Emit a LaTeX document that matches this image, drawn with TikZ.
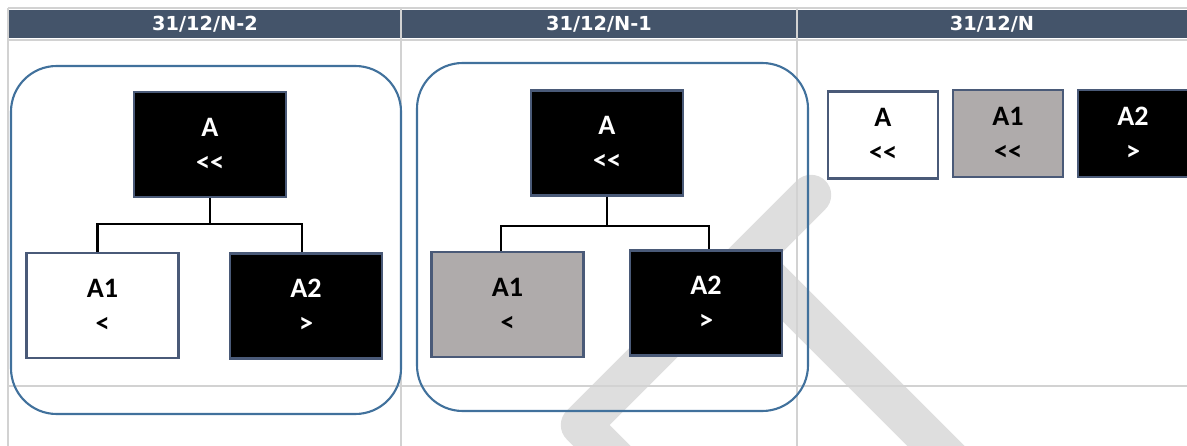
\documentclass[tikz,border=0pt]{standalone}
\usepackage{fontspec}
\setmainfont{Carlito}[Ligatures=TeXOff]
\newfontfamily\headfont{DejaVu Sans}
\usetikzlibrary{calc}
\definecolor{headblue}{HTML}{44546A}
\definecolor{boxedge}{HTML}{4A5A78}
\definecolor{groupblue}{HTML}{41719C}
\definecolor{midgray}{HTML}{AFABAB}
\definecolor{gridgray}{HTML}{D2D2D2}
\definecolor{markgray}{HTML}{DEDEDE}
\tikzset{
    px/.style={x=0.02cm, y=-0.02cm},
    cell/.style={draw=boxedge, line width=1.4pt, minimum width=3.04cm, minimum height=2.1cm,
        inner sep=0pt, align=center, font=\fontsize{16}{20}\selectfont\bfseries},
    tinybox/.style={cell, minimum width=2.2cm, minimum height=1.74cm},
    darkbox/.style={fill=black, text=white},
    whitebox/.style={fill=white, text=black},
    greybox/.style={fill=midgray, text=black},
    link/.style={line width=1.3pt},
    group/.style={draw=groupblue, line width=1.2pt, rounded corners=26pt},
    grid/.style={draw=gridgray, line width=1.1pt},
    head/.style={text=white, font=\headfont\fontsize{11}{13}\selectfont\bfseries}
}

\begin{document}
\begin{tikzpicture}[px]
    \useasboundingbox (0,0) rectangle (1187,446);
    \clip (0,0) rectangle (1187,446);

    \draw[markgray, line width=23pt, line cap=round, line join=round]
        (811,195) -- (581,425) -- (640,484);
    \draw[markgray, line width=23pt] (748,258) -- (990,500);

    \fill[headblue] (8,10) rectangle (1187,38);
    \draw[grid] (8,8) -- (1187,8) (8,40) -- (1187,40) (8,386) -- (1187,386);
    \foreach \x in {8,401,797}
        \draw[grid] (\x,8) -- (\x,446);
    \node[head] (h1) at (205,24) {31/12/N-2};
    \node[head] (h2) at (599,24) {31/12/N-1};
    \node[head] (h3) at (992,24) {31/12/N};

    \draw[group] (11,66) rectangle (401,414);
    \draw[group] (417,63) rectangle (808,411);

    \node[cell, darkbox] (a) at (210,144.5) {A\\<<};
    \node[cell, whitebox] (a1) at (102.5,305.5) {A1\\<};
    \node[cell, darkbox] (a2) at (306,306) {A2\\>};
    \draw[link] (a.south) -- ++(0,26) -| ($(a1.north)+(-5,0)$);
    \draw[link] (a.south) -- ++(0,26) -| ($(a2.north)+(-4,0)$);

    \node[cell, darkbox] (b) at (607,143) {A\\<<};
    \node[cell, greybox] (b1) at (507.5,304.5) {A1\\<};
    \node[cell, darkbox] (b2) at (706,303) {A2\\>};
    \draw[link] (b.south) -- ++(0,29) -| ($(b1.north)+(-6.5,0)$);
    \draw[link] (b.south) -- ++(0,29) -| ($(b2.north)+(3,0)$);

    \node[tinybox, whitebox] (c) at (883,135) {A\\<<};
    \node[tinybox, greybox] (c1) at (1008,133.5) {A1\\<<};
    \node[tinybox, darkbox] (c2) at (1133,133.5) {A2\\>};
\end{tikzpicture}
\end{document}
